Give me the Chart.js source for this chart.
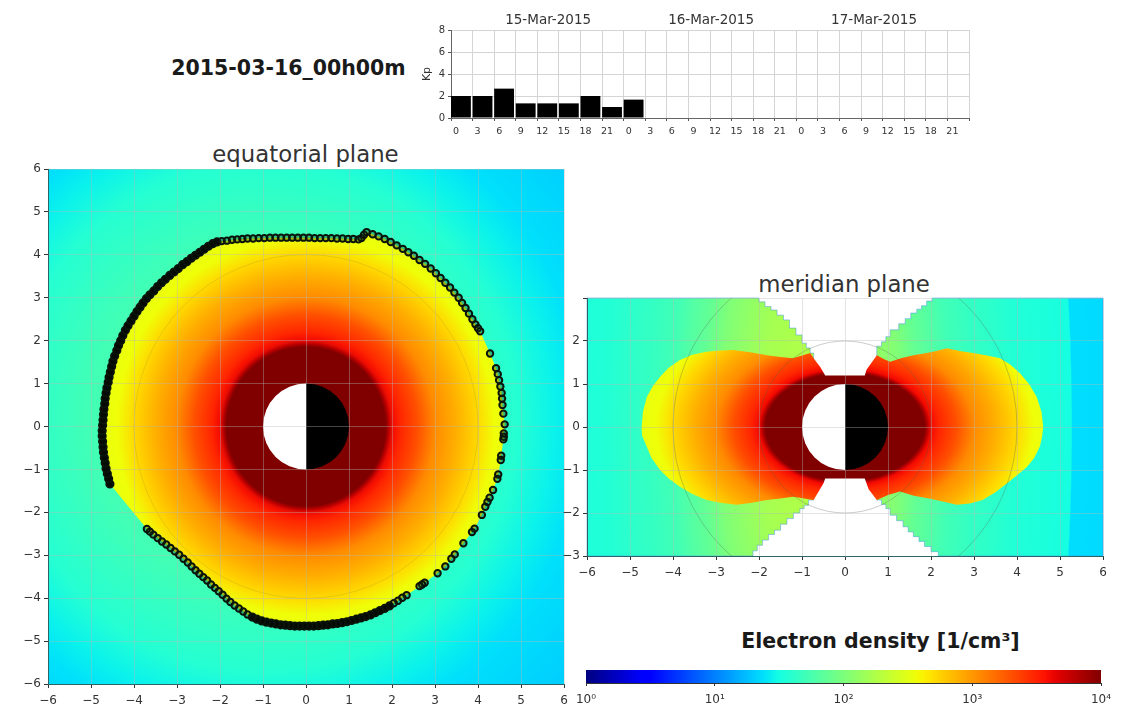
<!DOCTYPE html>
<html>
<head>
<meta charset="utf-8">
<script src="https://cdn.jsdelivr.net/npm/chart.js@4"></script>
<style>
body { margin: 0; background: #fff; width: 1127px; height: 714px; overflow: hidden; position: relative; font-family: "DejaVu Sans"; color: #1a1a1a; }
canvas { position: absolute; }
.title { position: absolute; transform: translate(-50%, -50%); white-space: nowrap; }
</style>
</head>
<body>
<div class="title" style="left:288.5px;top:68px;font-size:20.5px;font-weight:bold">2015-03-16_00h00m</div>
<div class="title" style="left:305.5px;top:154px;font-size:22.8px;color:#333">equatorial plane</div>
<div class="title" style="left:844px;top:284px;font-size:22.8px;color:#333">meridian plane</div>
<div class="title" style="left:880.5px;top:641px;font-size:20.5px;font-weight:bold">Electron density [1/cm³]</div>
<canvas id="kpChart"></canvas>
<canvas id="equatorChart"></canvas>
<canvas id="meridianChart"></canvas>
<canvas id="colorbarChart"></canvas>
<script>
// Kp index
const kpValues = [2, 2, 2.67, 1.33, 1.33, 1.33, 2, 1, 1.67];
const kpBins = [0.46, 1.46, 2.46, 3.46, 4.46, 5.46, 6.46, 7.46, 8.46];
const hourLabels = ['0', '3', '6', '9', '12', '15', '18', '21', '0', '3', '6', '9', '12', '15', '18', '21', '0', '3', '6', '9', '12', '15', '18', '21'];
const dateLabels = ['15-Mar-2015', '16-Mar-2015', '17-Mar-2015'];
const dateTicks = [4.5, 12.05, 19.6];

// plasmapause crossings, equatorial plane
const pauseX = [-4.56, -4.59, -4.62, -4.65, -4.67, -4.69, -4.71, -4.72, -4.73, -4.74, -4.74, -4.73, -4.72, -4.71, -4.70, -4.68, -4.67, -4.65, -4.63, -4.60, -4.58, -4.55, -4.52, -4.49, -4.45, -4.40, -4.36, -4.31, -4.26, -4.20, -4.14, -4.07, -4.00, -3.93, -3.86, -3.79, -3.71, -3.63, -3.54, -3.45, -3.36, -3.27, -3.17, -3.07, -2.97, -2.87, -2.77, -2.67, -2.57, -2.47, -2.37, -2.27, -2.17, -2.07,
    -1.96, -1.84, -1.72, -1.60, -1.48, -1.36, -1.23, -1.10, -0.97, -0.84, -0.71, -0.58, -0.45, -0.32, -0.19, -0.06, 0.07, 0.20, 0.33, 0.46, 0.59, 0.72, 0.85, 0.98, 1.10, 1.22, 1.29, 1.35,
    1.41, 1.55, 1.69, 1.83, 1.97, 2.11, 2.25, 2.38, 2.51, 2.64, 2.77, 2.90, 3.02, 3.13, 3.24, 3.35, 3.45, 3.55, 3.63, 3.71, 3.79, 3.87, 3.94, 4.00, 4.05,
    4.28, 4.42, 4.46, 4.49, 4.52, 4.55, 4.56, 4.57, 4.59, 4.62, 4.60, 4.60, 4.59, 4.54, 4.53, 4.47, 4.45, 4.35, 4.27, 4.22, 4.17, 4.09, 3.92, 3.86, 3.66, 3.46, 3.38, 3.24, 3.06, 2.76, 2.70, 2.64,
    2.34, 2.24, 2.14, 2.04, 1.94, 1.83, 1.72, 1.61, 1.50, 1.39, 1.28, 1.17, 1.06, 0.95, 0.84, 0.73, 0.62, 0.51, 0.40, 0.29, 0.18, 0.07, -0.04, -0.15, -0.26, -0.37, -0.48, -0.59, -0.70, -0.81, -0.92, -1.03,
    -1.14, -1.25, -1.36, -1.46, -1.56, -1.66, -1.76, -1.85, -1.94, -2.03, -2.12, -2.21, -2.30, -2.39, -2.48, -2.57, -2.66, -2.75, -2.85, -2.95, -3.05, -3.15, -3.25, -3.35, -3.45, -3.55, -3.63, -3.70];
const pauseY = [-1.34, -1.22, -1.10, -0.98, -0.85, -0.73, -0.60, -0.48, -0.35, -0.22, -0.10, 0.03, 0.15, 0.28, 0.40, 0.53, 0.65, 0.78, 0.90, 1.03, 1.15, 1.27, 1.40, 1.52, 1.64, 1.77, 1.89, 2.00, 2.12, 2.24, 2.35, 2.46, 2.57, 2.68, 2.78, 2.88, 2.98, 3.07, 3.16, 3.26, 3.35, 3.43, 3.52, 3.60, 3.68, 3.77, 3.84, 3.92, 3.99, 4.06, 4.13, 4.20, 4.26, 4.30,
    4.32, 4.33, 4.35, 4.36, 4.37, 4.38, 4.38, 4.39, 4.39, 4.40, 4.40, 4.40, 4.40, 4.40, 4.40, 4.40, 4.40, 4.39, 4.39, 4.39, 4.39, 4.38, 4.38, 4.37, 4.37, 4.36, 4.39, 4.47,
    4.53, 4.48, 4.43, 4.37, 4.30, 4.22, 4.14, 4.06, 3.98, 3.88, 3.79, 3.68, 3.57, 3.46, 3.35, 3.24, 3.12, 3.00, 2.88, 2.76, 2.63, 2.50, 2.38, 2.29, 2.22,
    1.70, 1.36, 1.22, 1.08, 0.93, 0.78, 0.65, 0.50, 0.30, 0.05, -0.16, -0.24, -0.30, -0.68, -0.78, -1.12, -1.22, -1.48, -1.66, -1.76, -1.87, -2.06, -2.38, -2.46, -2.72, -2.98, -3.08, -3.26, -3.42, -3.64, -3.68, -3.72,
    -3.93, -3.99, -4.06, -4.12, -4.18, -4.24, -4.29, -4.34, -4.39, -4.43, -4.46, -4.49, -4.52, -4.55, -4.57, -4.59, -4.60, -4.62, -4.63, -4.64, -4.65, -4.65, -4.65, -4.65, -4.65, -4.64, -4.63, -4.62, -4.60, -4.58, -4.56, -4.53,
    -4.49, -4.44, -4.38, -4.31, -4.24, -4.17, -4.09, -4.01, -3.92, -3.84, -3.76, -3.68, -3.59, -3.51, -3.43, -3.35, -3.26, -3.17, -3.08, -2.99, -2.91, -2.83, -2.75, -2.68, -2.60, -2.52, -2.45, -2.39];
// where the crossings overlap into a solid band
const denseLeft = [0, 53];
const denseBottom = [143, 172];

// density profiles: radius (Re) and log10(n)
const plasmaRadii = [0, 1.85, 1.92, 2.0, 2.2, 2.6, 3.0, 3.5, 4.0, 4.4, 5.2];
const plasmaLogs = [4, 4, 3.82, 3.6, 3.48, 3.30, 3.05, 2.9, 2.72, 2.56, 2.5];
const troughRadii = [0, 4, 5.9, 6.8, 7.5, 10];
const troughLogs = [1.8, 1.72, 1.58, 1.45, 1.38, 1.28];
const meridianRadii = [0, 1.2, 2.1, 2.5, 2.9, 3.2, 3.8, 4.2, 4.8, 5.8, 6.06, 6.09, 6.8, 8];
const meridianLogs = [2.3, 2.2, 2.02, 1.88, 1.8, 1.72, 1.65, 1.62, 1.56, 1.52, 1.5, 1.37, 1.36, 1.34];
const guideCircles = [2, 4];

// meridian plane outlines
const plumeX = [-0.46, 0.46, 0.50, 0.74, 0.9, 1.05, 1.3, 1.59, 1.9, 2.1, 2.37, 2.7, 2.98, 3.3, 3.6, 3.85, 4.07, 4.28, 4.46, 4.57, 4.61, 4.58, 4.53, 4.4, 4.23, 4.0, 3.77, 3.5, 3.2, 2.9, 2.6, 2.3, 1.98, 1.6, 1.28, 1.0, 0.74, 0.55, 0.46, -0.46, -0.5, -0.73, -0.95, -1.2, -1.5, -1.82, -2.2, -2.52, -2.9, -3.22, -3.55, -3.84, -4.1, -4.30, -4.5, -4.61, -4.72, -4.73, -4.70, -4.61, -4.47, -4.30, -4.1, -3.84, -3.55, -3.22, -2.9, -2.60, -2.2, -1.82, -1.5, -1.21, -1.0, -0.81, -0.7, -0.58];
const plumeY = [1.2, 1.2, 1.33, 1.67, 1.58, 1.52, 1.6, 1.67, 1.72, 1.76, 1.83, 1.76, 1.72, 1.66, 1.6, 1.45, 1.25, 1.0, 0.70, 0.35, 0, -0.25, -0.46, -0.72, -0.93, -1.12, -1.31, -1.52, -1.7, -1.78, -1.81, -1.74, -1.67, -1.6, -1.5, -1.58, -1.7, -1.45, -1.2, -1.2, -1.31, -1.70, -1.66, -1.62, -1.66, -1.7, -1.77, -1.81, -1.76, -1.70, -1.56, -1.39, -1.2, -1.0, -0.72, -0.46, -0.2, 0, 0.35, 0.70, 0.95, 1.17, 1.38, 1.56, 1.68, 1.75, 1.78, 1.79, 1.74, 1.67, 1.63, 1.60, 1.66, 1.72, 1.56, 1.40];
const wedgeLeftX = [-6, -2.14, -2.0, -1.86, -1.72, -1.58, -1.43, -1.29, -1.14, -1.0, -0.9, -0.81, -0.73, -0.85, -0.95, -1.05, -1.2, -1.35, -1.5, -1.64, -1.78, -1.92, -2.04, -2.14, -6];
const wedgeLeftY = [3, 3, 2.91, 2.8, 2.72, 2.6, 2.49, 2.3, 2.14, 1.95, 1.84, 1.72, -1.7, -1.82, -1.9, -2.0, -2.13, -2.26, -2.4, -2.5, -2.63, -2.75, -2.88, -3, -3];
const wedgeRightX = [6, 2.17, 2.03, 1.9, 1.78, 1.67, 1.53, 1.4, 1.25, 1.05, 0.95, 0.85, 0.74, 0.74, 0.85, 0.95, 1.05, 1.2, 1.35, 1.47, 1.59, 1.72, 1.85, 2.0, 2.17, 6];
const wedgeRightY = [3, 3, 2.93, 2.82, 2.74, 2.65, 2.52, 2.4, 2.26, 2.1, 1.98, 1.88, 1.79, -1.7, -1.8, -1.9, -2.05, -2.18, -2.32, -2.44, -2.55, -2.66, -2.78, -2.9, -3, -3];

// colorbar
const colorbarTicks = [1, 10, 100, 1000, 10000];
const colorbarLabels = ['10⁰', '10¹', '10²', '10³', '10⁴'];
const axisTicks = ['−6', '−5', '−4', '−3', '−2', '−1', '0', '1', '2', '3', '4', '5', '6'];

const jetRed = [[0, 0], [0.35, 0], [0.66, 1], [0.89, 1], [1, 0.5]];
const jetGreen = [[0, 0], [0.125, 0], [0.375, 1], [0.64, 1], [0.91, 0], [1, 0]];
const jetBlue = [[0, 0.5], [0.11, 1], [0.34, 1], [0.65, 0], [1, 0]];

function lerpStops(stops, f) {
    for (var i = 1; i < stops.length; i++) {
        if (f <= stops[i][0]) {
            var t = (f - stops[i - 1][0]) / (stops[i][0] - stops[i - 1][0]);
            return stops[i - 1][1] + t * (stops[i][1] - stops[i - 1][1]);
        }
    }
    return stops[stops.length - 1][1];
}

function jet(logN) {
    var f = Math.min(1, Math.max(0, logN / 4));
    var r = Math.round(255 * lerpStops(jetRed, f));
    var g = Math.round(255 * lerpStops(jetGreen, f));
    var b = Math.round(255 * lerpStops(jetBlue, f));
    return `rgb(${r},${g},${b})`;
}

function place(id, area, m, config) {
    var canvas = document.getElementById(id);
    canvas.width = area.r - area.l + m.left + m.right;
    canvas.height = area.b - area.t + m.top + m.bottom;
    canvas.style.left = (area.l - m.left) + 'px';
    canvas.style.top = (area.t - m.top) + 'px';
    return new Chart(canvas, config);
}

// fills the current clip with a radial density profile, kY squeezes the contours
function fillRadial(chart, cx, cy, kY, radii, logs) {
    var ctx = chart.ctx;
    var sx = chart.scales.x, sy = chart.scales.y;
    var unit = sx.getPixelForValue(1) - sx.getPixelForValue(0);
    var rMax = radii[radii.length - 1];
    ctx.save();
    ctx.translate(sx.getPixelForValue(cx), sy.getPixelForValue(cy));
    ctx.scale(1, kY);
    var grad = ctx.createRadialGradient(0, 0, 0, 0, 0, rMax * unit);
    radii.forEach((r, i) => grad.addColorStop(r / rMax, jet(logs[i])));
    ctx.fillStyle = grad;
    ctx.fillRect(-2000, -2000, 4000, 4000);
    ctx.restore();
}

function tracePolygon(chart, xs, ys, stepped) {
    var ctx = chart.ctx;
    var sx = chart.scales.x, sy = chart.scales.y;
    ctx.beginPath();
    xs.forEach((x, i) => {
        var px = sx.getPixelForValue(x), py = sy.getPixelForValue(ys[i]);
        if (i == 0) {
            ctx.moveTo(px, py);
        } else {
            if (stepped) ctx.lineTo(px, sy.getPixelForValue(ys[i - 1]));
            ctx.lineTo(px, py);
        }
    });
    ctx.closePath();
}

function drawEarth(chart) {
    var ctx = chart.ctx;
    var sx = chart.scales.x, sy = chart.scales.y;
    var x0 = sx.getPixelForValue(0), y0 = sy.getPixelForValue(0);
    var r = sx.getPixelForValue(1) - x0;
    ctx.fillStyle = '#fff';
    ctx.beginPath();
    ctx.arc(x0, y0, r, Math.PI / 2, Math.PI * 1.5);
    ctx.fill();
    ctx.fillStyle = '#000';
    ctx.beginPath();
    ctx.arc(x0, y0, r, -Math.PI / 2, Math.PI / 2);
    ctx.fill();
}

function drawGuides(chart, alpha) {
    var ctx = chart.ctx;
    var sx = chart.scales.x, sy = chart.scales.y;
    var a = chart.chartArea;
    var unit = sx.getPixelForValue(1) - sx.getPixelForValue(0);
    ctx.save();
    ctx.beginPath();
    ctx.rect(a.left, a.top, a.right - a.left, a.bottom - a.top);
    ctx.clip();
    ctx.strokeStyle = `rgba(80,90,80,${alpha})`;
    ctx.lineWidth = 1;
    guideCircles.forEach(r => {
        ctx.beginPath();
        ctx.arc(sx.getPixelForValue(0), sy.getPixelForValue(0), r * unit, 0, Math.PI * 2);
        ctx.stroke();
    });
    ctx.restore();
}

const equatorField = {
    id: 'equatorField',
    beforeDraw(chart) {
        var ctx = chart.ctx;
        var a = chart.chartArea;
        ctx.save();
        ctx.beginPath();
        ctx.rect(a.left, a.top, a.right - a.left, a.bottom - a.top);
        ctx.clip();
        fillRadial(chart, -1, 0.2, 1, troughRadii, troughLogs);
        tracePolygon(chart, pauseX, pauseY, false);
        ctx.clip();
        fillRadial(chart, 0, 0, 1, plasmaRadii, plasmaLogs);
        ctx.restore();
        drawGuides(chart, 0.14);
        drawEarth(chart);
    }
};

const meridianField = {
    id: 'meridianField',
    beforeDraw(chart) {
        var ctx = chart.ctx;
        [[wedgeLeftX, wedgeLeftY], [wedgeRightX, wedgeRightY]].forEach(w => {
            ctx.save();
            tracePolygon(chart, w[0], w[1], true);
            ctx.clip();
            fillRadial(chart, -0.8, 0, 3, meridianRadii, meridianLogs);
            ctx.restore();
            tracePolygon(chart, w[0], w[1], true);
            ctx.strokeStyle = 'rgba(70,150,230,0.5)';
            ctx.lineWidth = 1;
            ctx.stroke();
        });
        ctx.save();
        tracePolygon(chart, plumeX, plumeY, false);
        ctx.clip();
        fillRadial(chart, 0, 0, 0.68, plasmaRadii, plasmaLogs);
        ctx.restore();
        drawGuides(chart, 0.3);
        drawEarth(chart);
    }
};

const colorbarFill = {
    id: 'colorbarFill',
    beforeDraw(chart) {
        var ctx = chart.ctx;
        var a = chart.chartArea;
        var sx = chart.scales.x;
        var x0 = sx.getPixelForValue(colorbarTicks[0]);
        var x1 = sx.getPixelForValue(colorbarTicks[4]);
        var grad = ctx.createLinearGradient(x0, 0, x1, 0);
        for (var i = 0; i <= 64; i++) {
            grad.addColorStop(i / 64, jet(4 * i / 64));
        }
        ctx.fillStyle = grad;
        ctx.fillRect(x0, a.top, x1 - x0, a.bottom - a.top);
    }
};

function planeAxes(yMin, yMax) {
    var grid = { color: 'rgba(185,185,185,0.38)', lineWidth: 1, tickColor: '#333', tickLength: 4 };
    var border = { color: '#2c6468', width: 1 };
    return {
        x: {
            type: 'linear', min: -6, max: 6,
            grid: grid, border: border,
            ticks: { stepSize: 1, autoSkip: false, maxRotation: 0, padding: 6, color: '#333', font: { family: 'DejaVu Sans', size: 12 }, callback: v => axisTicks[v + 6] },
            afterFit: s => { s.height = 30; }
        },
        y: {
            type: 'linear', min: yMin, max: yMax,
            grid: grid, border: border,
            ticks: { stepSize: 1, autoSkip: false, padding: 3, color: '#333', font: { family: 'DejaVu Sans', size: 12 }, callback: v => (yMin == -3 && v == 3) ? '' : axisTicks[v + 6] },
            afterFit: s => { s.width = 30; }
        }
    };
}

function inBand(i, band) {
    return i >= band[0] && i <= band[1];
}

place('kpChart', { l: 451, t: 30, r: 969, b: 118 }, { left: 30, top: 30, right: 20, bottom: 22 }, {
    type: 'bar',
    data: {
        datasets: [{
            data: kpValues.map((v, i) => ({ x: kpBins[i], y: v })),
            backgroundColor: '#000',
            barPercentage: 0.92,
            categoryPercentage: 1
        }]
    },
    options: {
        responsive: false,
        animation: false,
        layout: { padding: { top: 4, right: 20 } },
        plugins: { legend: { display: false }, tooltip: { enabled: false } },
        scales: {
            x: {
                type: 'linear', min: 0, max: 24, offset: false,
                grid: { offset: false, color: '#d4d4d4', tickColor: '#555', tickLength: 3 },
                border: { color: '#666' },
                ticks: { stepSize: 1, autoSkip: false, maxRotation: 0, padding: 5, labelOffset: 5, color: '#333', font: { family: 'DejaVu Sans', size: 9.5 }, callback: v => hourLabels[v] || '' },
                afterFit: s => { s.height = 22; }
            },
            top: {
                type: 'linear', position: 'top', axis: 'x', min: 0, max: 24, offset: false,
                grid: { display: false, drawTicks: false, offset: false },
                border: { display: false },
                afterBuildTicks: s => { s.ticks = dateTicks.map(v => ({ value: v })); },
                ticks: { autoSkip: false, maxRotation: 0, padding: 1, color: '#333', font: { family: 'DejaVu Sans', size: 13.5 }, callback: (v, i) => dateLabels[i] },
                afterFit: s => { s.height = 26; }
            },
            y: {
                min: 0, max: 8,
                grid: { color: '#d4d4d4', tickColor: '#555', tickLength: 3 },
                border: { color: '#666' },
                title: { display: true, text: 'Kp', color: '#333', padding: 0, font: { family: 'DejaVu Sans', size: 11 } },
                ticks: { stepSize: 2, padding: 3, color: '#333', font: { family: 'DejaVu Sans', size: 10 } },
                afterFit: s => { s.width = 30; }
            }
        }
    }
});

place('equatorChart', { l: 48, t: 169, r: 564, b: 684 }, { left: 30, top: 14, right: 12, bottom: 30 }, {
    type: 'scatter',
    data: {
        datasets: [{
            data: pauseX.map((x, i) => ({ x: x, y: pauseY[i] })),
            pointRadius: c => (inBand(c.dataIndex, denseLeft) || inBand(c.dataIndex, denseBottom)) ? 3.6 : 3.2,
            pointBorderWidth: 2,
            pointBorderColor: '#0b140b',
            pointBackgroundColor: c => (inBand(c.dataIndex, denseLeft) || inBand(c.dataIndex, denseBottom)) ? '#050a05' : 'rgba(20,60,20,0.35)'
        }]
    },
    options: {
        responsive: false,
        animation: false,
        layout: { padding: { top: 14, right: 12 } },
        plugins: { legend: { display: false }, tooltip: { enabled: false } },
        scales: planeAxes(-6, 6)
    },
    plugins: [equatorField]
});

place('meridianChart', { l: 587, t: 298, r: 1103, b: 556 }, { left: 30, top: 14, right: 12, bottom: 30 }, {
    type: 'scatter',
    data: { datasets: [] },
    options: {
        responsive: false,
        animation: false,
        layout: { padding: { top: 14, right: 12 } },
        plugins: { legend: { display: false }, tooltip: { enabled: false } },
        scales: planeAxes(-3, 3)
    },
    plugins: [meridianField]
});

place('colorbarChart', { l: 586, t: 670, r: 1101, b: 683 }, { left: 20, top: 4, right: 20, bottom: 28 }, {
    type: 'scatter',
    data: { datasets: [] },
    options: {
        responsive: false,
        animation: false,
        layout: { padding: { left: 20, top: 4, right: 20 } },
        plugins: { legend: { display: false }, tooltip: { enabled: false } },
        scales: {
            x: {
                type: 'logarithmic', min: 1, max: 10000,
                grid: { drawOnChartArea: false, tickColor: '#333', tickLength: 3 },
                border: { color: '#333' },
                afterBuildTicks: s => { s.ticks = colorbarTicks.map(v => ({ value: v })); },
                ticks: { autoSkip: false, maxRotation: 0, padding: 7, color: '#333', font: { family: 'DejaVu Sans', size: 12 }, callback: (v, i) => colorbarLabels[i] },
                afterFit: s => { s.height = 28; }
            },
            y: { display: false, min: 0, max: 1 }
        }
    },
    plugins: [colorbarFill]
});
</script>
</body>
</html>
